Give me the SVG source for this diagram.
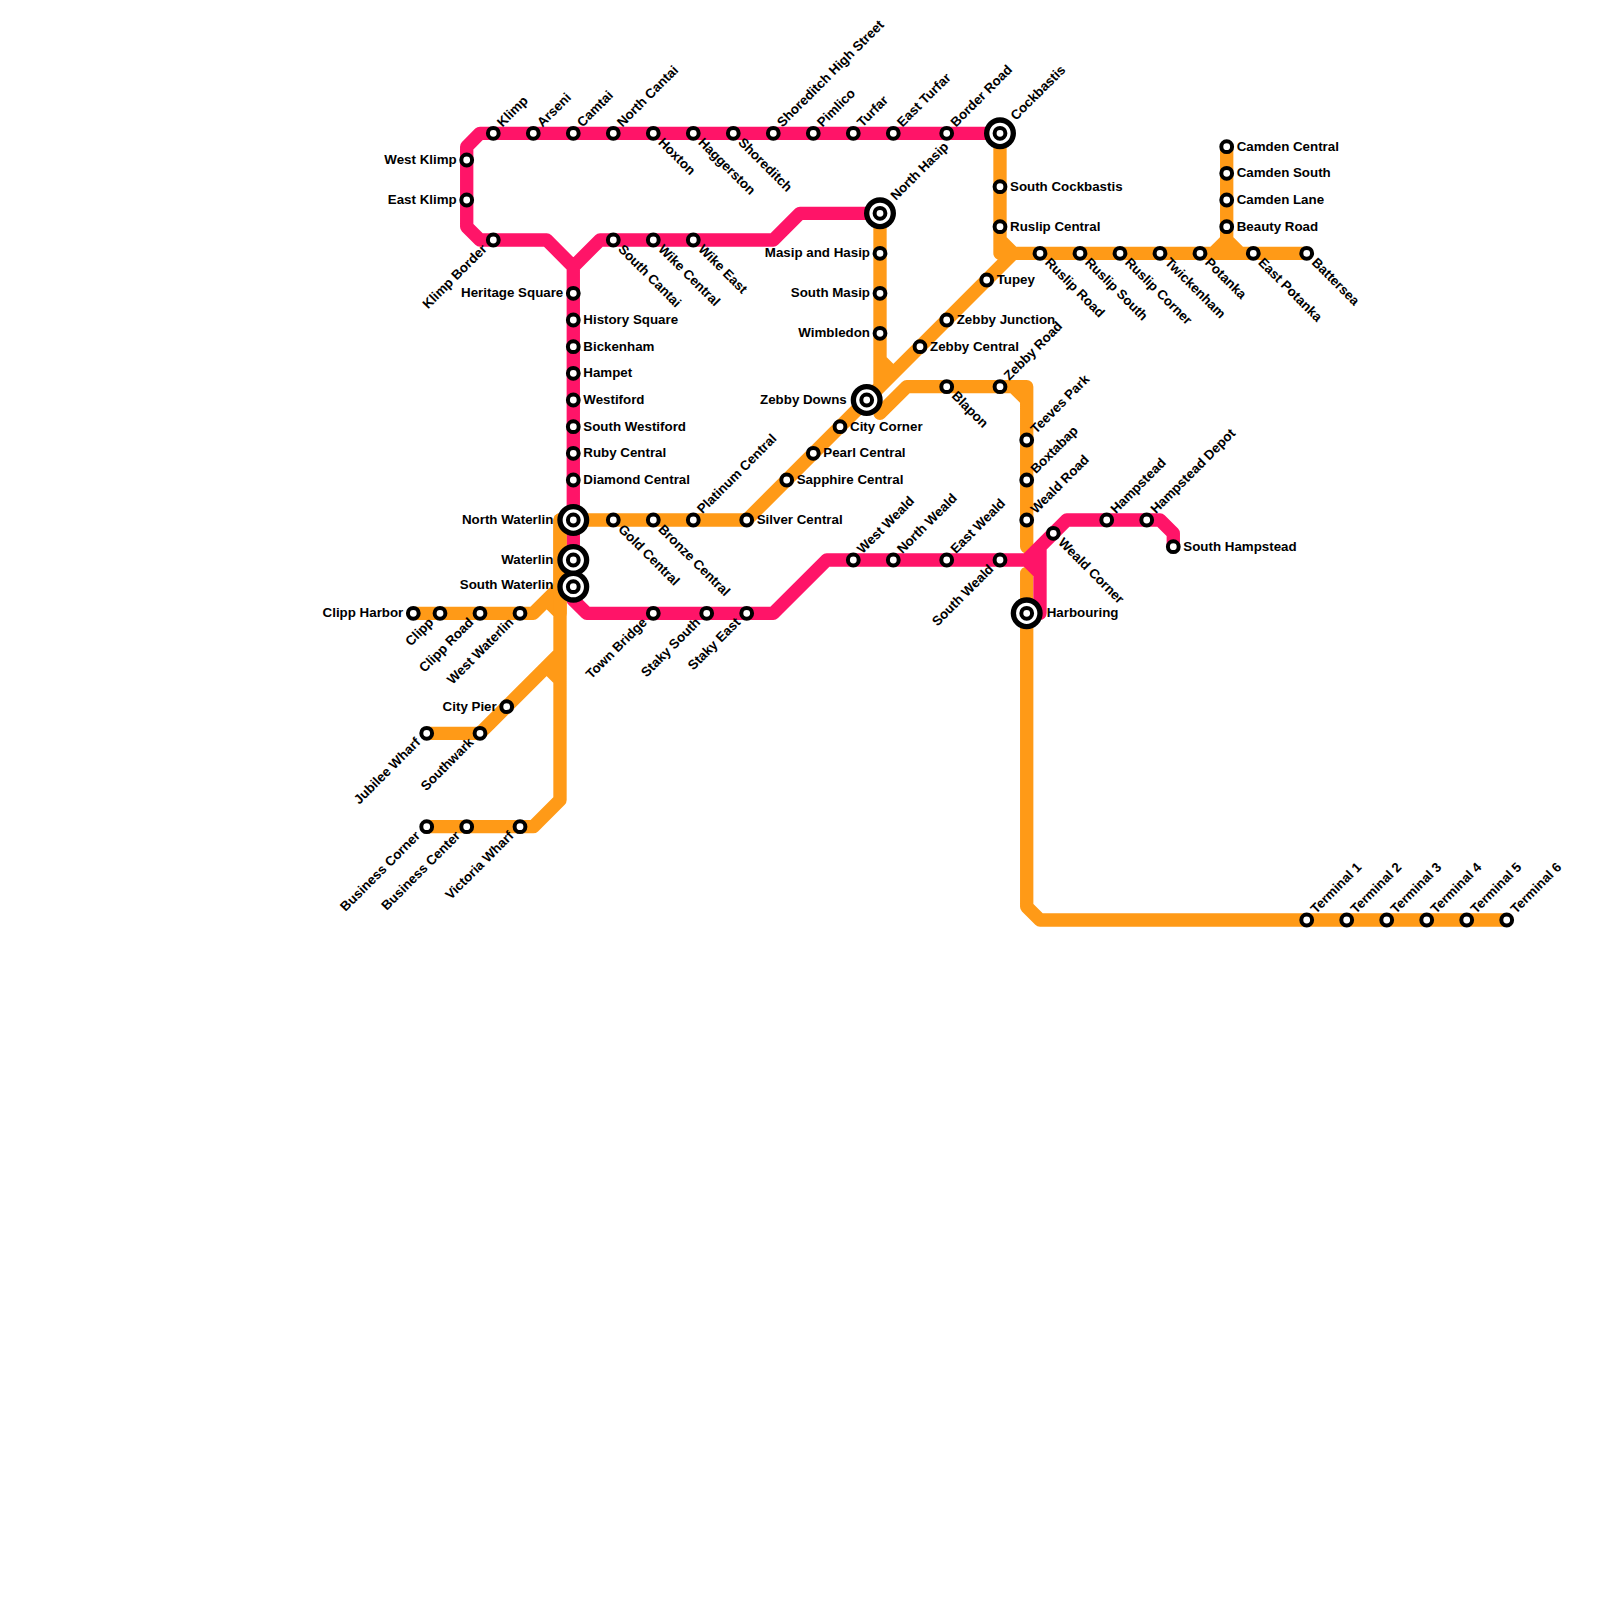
<svg xmlns="http://www.w3.org/2000/svg" width="1600" height="1600" viewBox="0 0 1600 1600">
<style>
.l{fill:none;stroke-width:13.33;stroke-linejoin:round;stroke-linecap:round}
.o{stroke:#ff9a17}
.p{stroke:#ff1468}
.s{fill:#fff;stroke:#000;stroke-width:4}
.i{fill:#fff;stroke:#000;stroke-width:5.33}
text{font-family:"Liberation Sans",Arial,sans-serif;font-size:13.33px;font-weight:bold;fill:#000}
.L{text-anchor:end}
</style>
<defs>
<circle id="st" r="5.4" class="s"/>
<g id="ix"><circle r="13.33" class="i"/><circle r="5.4" class="s"/></g>
</defs>
<rect width="1600" height="1600" fill="#fff"/>
<g id="connectors">
<path class="l o" d="M1000,133.3V253.3M1000,240L1013.3,253.3H1306.7M1226.7,146.7V240L1240,253.3M1226.7,240L1213.3,253.3M1013.3,253.3L746.7,520H560V800L533.3,826.7H426.7M880,213.3V386.7M880,360L893.3,373.3M880,413.3L906.7,386.7H1026.7V546.7M1013.3,386.7L1026.7,400M1026.7,573.3V906.7L1040,920H1506.7M413.3,613.3H533.3L560,586.7M546.7,600L560,613.3M426.7,733.3H480L560,653.3M546.7,666.7L560,680"/>
<path class="l p" d="M1000,133.3H480L466.7,146.7V226.7L480,240H546.7L573.3,266.7V600L586.7,613.3H773.3L826.7,560H1026.7L1066.7,520H1160L1173.3,533.3V546.7M573.3,266.7L600,240H773.3L800,213.3H880M1026.7,560L1040,573.3V613.3M1040,546.7V573.3"/>
<path class="l o" d="M560,520V613.3"/>
</g>
<g id="n1"><use href="#st" x="493.3" y="133.3"/><text transform="translate(493.3,133.3) rotate(-45)" x="10.5" y="2.5">Klimp</text></g>
<g id="n2"><use href="#st" x="533.3" y="133.3"/><text transform="translate(533.3,133.3) rotate(-45)" x="10.5" y="2.5">Arseni</text></g>
<g id="n3"><use href="#st" x="573.3" y="133.3"/><text transform="translate(573.3,133.3) rotate(-45)" x="10.5" y="2.5">Camtai</text></g>
<g id="n4"><use href="#st" x="613.3" y="133.3"/><text transform="translate(613.3,133.3) rotate(-45)" x="10.5" y="2.5">North Cantai</text></g>
<g id="n5"><use href="#st" x="653.3" y="133.3"/><text transform="translate(653.3,133.3) rotate(45)" x="10" y="4">Hoxton</text></g>
<g id="n6"><use href="#st" x="693.3" y="133.3"/><text transform="translate(693.3,133.3) rotate(45)" x="10" y="4">Haggerston</text></g>
<g id="n7"><use href="#st" x="733.3" y="133.3"/><text transform="translate(733.3,133.3) rotate(45)" x="10" y="4">Shoreditch</text></g>
<g id="n8"><use href="#st" x="773.3" y="133.3"/><text transform="translate(773.3,133.3) rotate(-45)" x="10.5" y="2.5">Shoreditch High Street</text></g>
<g id="n9"><use href="#st" x="813.3" y="133.3"/><text transform="translate(813.3,133.3) rotate(-45)" x="10.5" y="2.5">Pimlico</text></g>
<g id="n10"><use href="#st" x="853.3" y="133.3"/><text transform="translate(853.3,133.3) rotate(-45)" x="10.5" y="2.5">Turfar</text></g>
<g id="n11"><use href="#st" x="893.3" y="133.3"/><text transform="translate(893.3,133.3) rotate(-45)" x="10.5" y="2.5">East Turfar</text></g>
<g id="n12"><use href="#st" x="946.7" y="133.3"/><text transform="translate(946.7,133.3) rotate(-45)" x="10.5" y="2.5">Border Road</text></g>
<g id="n13"><use href="#ix" x="1000" y="133.3"/><text transform="translate(1000,133.3) rotate(-45)" x="20" y="2.5">Cockbastis</text></g>
<g id="n14"><use href="#st" x="466.7" y="160"/><text class="L" x="456.7" y="163.8">West Klimp</text></g>
<g id="n15"><use href="#st" x="466.7" y="200"/><text class="L" x="456.7" y="203.8">East Klimp</text></g>
<g id="n16"><use href="#st" x="493.3" y="240"/><text class="L" transform="translate(493.3,240) rotate(-45)" x="-11" y="3">Klimp Border</text></g>
<g id="n17"><use href="#st" x="613.3" y="240"/><text transform="translate(613.3,240) rotate(45)" x="10" y="4">South Cantai</text></g>
<g id="n18"><use href="#st" x="653.3" y="240"/><text transform="translate(653.3,240) rotate(45)" x="10" y="4">Wike Central</text></g>
<g id="n19"><use href="#st" x="693.3" y="240"/><text transform="translate(693.3,240) rotate(45)" x="10" y="4">Wike East</text></g>
<g id="n20"><use href="#st" x="573.3" y="293.3"/><text class="L" x="563.3" y="297.1">Heritage Square</text></g>
<g id="n21"><use href="#st" x="573.3" y="320"/><text x="583.3" y="323.8">History Square</text></g>
<g id="n22"><use href="#st" x="573.3" y="346.7"/><text x="583.3" y="350.5">Bickenham</text></g>
<g id="n23"><use href="#st" x="573.3" y="373.3"/><text x="583.3" y="377.1">Hampet</text></g>
<g id="n24"><use href="#st" x="573.3" y="400"/><text x="583.3" y="403.8">Westiford</text></g>
<g id="n25"><use href="#st" x="573.3" y="426.7"/><text x="583.3" y="430.5">South Westiford</text></g>
<g id="n26"><use href="#st" x="573.3" y="453.3"/><text x="583.3" y="457.1">Ruby Central</text></g>
<g id="n27"><use href="#st" x="573.3" y="480"/><text x="583.3" y="483.8">Diamond Central</text></g>
<g id="n28"><use href="#ix" x="573.3" y="520"/><text class="L" x="553.3" y="523.8">North Waterlin</text></g>
<g id="n29"><use href="#ix" x="573.3" y="560"/><text class="L" x="553.3" y="563.8">Waterlin</text></g>
<g id="n30"><use href="#ix" x="573.3" y="586.7"/><text class="L" x="553.3" y="589">South Waterlin</text></g>
<g id="n31"><use href="#st" x="613.3" y="520"/><text transform="translate(613.3,520) rotate(45)" x="10" y="4">Gold Central</text></g>
<g id="n32"><use href="#st" x="653.3" y="520"/><text transform="translate(653.3,520) rotate(45)" x="10" y="4">Bronze Central</text></g>
<g id="n33"><use href="#st" x="693.3" y="520"/><text transform="translate(693.3,520) rotate(-45)" x="10.5" y="2.5">Platinum Central</text></g>
<g id="n34"><use href="#st" x="746.7" y="520"/><text x="756.7" y="523.8">Silver Central</text></g>
<g id="n35"><use href="#st" x="786.7" y="480"/><text x="796.7" y="483.8">Sapphire Central</text></g>
<g id="n36"><use href="#st" x="813.3" y="453.3"/><text x="823.3" y="457.1">Pearl Central</text></g>
<g id="n37"><use href="#st" x="840" y="426.7"/><text x="850" y="430.5">City Corner</text></g>
<g id="n38"><use href="#ix" x="866.7" y="400"/><text class="L" x="846.7" y="403.8">Zebby Downs</text></g>
<g id="n39"><use href="#st" x="920" y="346.7"/><text x="930" y="350.5">Zebby Central</text></g>
<g id="n40"><use href="#st" x="946.7" y="320"/><text x="956.7" y="323.8">Zebby Junction</text></g>
<g id="n41"><use href="#st" x="986.7" y="280"/><text x="996.7" y="283.8">Tupey</text></g>
<g id="n42"><use href="#ix" x="880" y="213.3"/><text transform="translate(880,213.3) rotate(-45)" x="20" y="2.5">North Hasip</text></g>
<g id="n43"><use href="#st" x="880" y="253.3"/><text class="L" x="870" y="257.1">Masip and Hasip</text></g>
<g id="n44"><use href="#st" x="880" y="293.3"/><text class="L" x="870" y="297.1">South Masip</text></g>
<g id="n45"><use href="#st" x="880" y="333.3"/><text class="L" x="870" y="337.1">Wimbledon</text></g>
<g id="n46"><use href="#st" x="1000" y="186.7"/><text x="1010" y="190.5">South Cockbastis</text></g>
<g id="n47"><use href="#st" x="1000" y="226.7"/><text x="1010" y="230.5">Ruslip Central</text></g>
<g id="n48"><use href="#st" x="1040" y="253.3"/><text transform="translate(1040,253.3) rotate(45)" x="10" y="4">Ruslip Road</text></g>
<g id="n49"><use href="#st" x="1080" y="253.3"/><text transform="translate(1080,253.3) rotate(45)" x="10" y="4">Ruslip South</text></g>
<g id="n50"><use href="#st" x="1120" y="253.3"/><text transform="translate(1120,253.3) rotate(45)" x="10" y="4">Ruslip Corner</text></g>
<g id="n51"><use href="#st" x="1160" y="253.3"/><text transform="translate(1160,253.3) rotate(45)" x="10" y="4">Twickenham</text></g>
<g id="n52"><use href="#st" x="1200" y="253.3"/><text transform="translate(1200,253.3) rotate(45)" x="10" y="4">Potanka</text></g>
<g id="n53"><use href="#st" x="1253.3" y="253.3"/><text transform="translate(1253.3,253.3) rotate(45)" x="10" y="4">East Potanka</text></g>
<g id="n54"><use href="#st" x="1306.7" y="253.3"/><text transform="translate(1306.7,253.3) rotate(45)" x="10" y="4">Battersea</text></g>
<g id="n55"><use href="#st" x="1226.7" y="146.7"/><text x="1236.7" y="150.5">Camden Central</text></g>
<g id="n56"><use href="#st" x="1226.7" y="173.3"/><text x="1236.7" y="177.1">Camden South</text></g>
<g id="n57"><use href="#st" x="1226.7" y="200"/><text x="1236.7" y="203.8">Camden Lane</text></g>
<g id="n58"><use href="#st" x="1226.7" y="226.7"/><text x="1236.7" y="230.5">Beauty Road</text></g>
<g id="n59"><use href="#st" x="946.7" y="386.7"/><text transform="translate(946.7,386.7) rotate(45)" x="10" y="4">Blapon</text></g>
<g id="n60"><use href="#st" x="1000" y="386.7"/><text transform="translate(1000,386.7) rotate(-45)" x="10.5" y="2.5">Zebby Road</text></g>
<g id="n61"><use href="#st" x="1026.7" y="440"/><text transform="translate(1026.7,440) rotate(-45)" x="10.5" y="2.5">Teeves Park</text></g>
<g id="n62"><use href="#st" x="1026.7" y="480"/><text transform="translate(1026.7,480) rotate(-45)" x="10.5" y="2.5">Boxtabap</text></g>
<g id="n63"><use href="#st" x="1026.7" y="520"/><text transform="translate(1026.7,520) rotate(-45)" x="10.5" y="2.5">Weald Road</text></g>
<g id="n64"><use href="#st" x="853.3" y="560"/><text transform="translate(853.3,560) rotate(-45)" x="10.5" y="2.5">West Weald</text></g>
<g id="n65"><use href="#st" x="893.3" y="560"/><text transform="translate(893.3,560) rotate(-45)" x="10.5" y="2.5">North Weald</text></g>
<g id="n66"><use href="#st" x="946.7" y="560"/><text transform="translate(946.7,560) rotate(-45)" x="10.5" y="2.5">East Weald</text></g>
<g id="n67"><use href="#st" x="1000" y="560"/><text class="L" transform="translate(1000,560) rotate(-45)" x="-11" y="3">South Weald</text></g>
<g id="n68"><use href="#st" x="1053.3" y="533.3"/><text transform="translate(1053.3,533.3) rotate(45)" x="10" y="4">Weald Corner</text></g>
<g id="n69"><use href="#st" x="1106.7" y="520"/><text transform="translate(1106.7,520) rotate(-45)" x="10.5" y="2.5">Hampstead</text></g>
<g id="n70"><use href="#st" x="1146.7" y="520"/><text transform="translate(1146.7,520) rotate(-45)" x="10.5" y="2.5">Hampstead Depot</text></g>
<g id="n71"><use href="#st" x="1173.3" y="546.7"/><text x="1183.3" y="550.5">South Hampstead</text></g>
<g id="n72"><use href="#ix" x="1026.7" y="613.3"/><text x="1046.7" y="617.1">Harbouring</text></g>
<g id="n73"><use href="#st" x="413.3" y="613.3"/><text class="L" x="403.3" y="617.1">Clipp Harbor</text></g>
<g id="n74"><use href="#st" x="440" y="613.3"/><text class="L" transform="translate(440,613.3) rotate(-45)" x="-11" y="3">Clipp</text></g>
<g id="n75"><use href="#st" x="480" y="613.3"/><text class="L" transform="translate(480,613.3) rotate(-45)" x="-11" y="3">Clipp Road</text></g>
<g id="n76"><use href="#st" x="520" y="613.3"/><text class="L" transform="translate(520,613.3) rotate(-45)" x="-11" y="3">West Waterlin</text></g>
<g id="n77"><use href="#st" x="653.3" y="613.3"/><text class="L" transform="translate(653.3,613.3) rotate(-45)" x="-11" y="3">Town Bridge</text></g>
<g id="n78"><use href="#st" x="706.7" y="613.3"/><text class="L" transform="translate(706.7,613.3) rotate(-45)" x="-11" y="3">Staky South</text></g>
<g id="n79"><use href="#st" x="746.7" y="613.3"/><text class="L" transform="translate(746.7,613.3) rotate(-45)" x="-11" y="3">Staky East</text></g>
<g id="n80"><use href="#st" x="506.7" y="706.7"/><text class="L" x="496.7" y="710.5">City Pier</text></g>
<g id="n81"><use href="#st" x="426.7" y="733.3"/><text class="L" transform="translate(426.7,733.3) rotate(-45)" x="-11" y="3">Jubilee Wharf</text></g>
<g id="n82"><use href="#st" x="480" y="733.3"/><text class="L" transform="translate(480,733.3) rotate(-45)" x="-11" y="3">Southwark</text></g>
<g id="n83"><use href="#st" x="426.7" y="826.7"/><text class="L" transform="translate(426.7,826.7) rotate(-45)" x="-11" y="3">Business Corner</text></g>
<g id="n84"><use href="#st" x="466.7" y="826.7"/><text class="L" transform="translate(466.7,826.7) rotate(-45)" x="-11" y="3">Business Center</text></g>
<g id="n85"><use href="#st" x="520" y="826.7"/><text class="L" transform="translate(520,826.7) rotate(-45)" x="-11" y="3">Victoria Wharf</text></g>
<g id="n86"><use href="#st" x="1306.7" y="920"/><text transform="translate(1306.7,920) rotate(-45)" x="10.5" y="2.5">Terminal 1</text></g>
<g id="n87"><use href="#st" x="1346.7" y="920"/><text transform="translate(1346.7,920) rotate(-45)" x="10.5" y="2.5">Terminal 2</text></g>
<g id="n88"><use href="#st" x="1386.7" y="920"/><text transform="translate(1386.7,920) rotate(-45)" x="10.5" y="2.5">Terminal 3</text></g>
<g id="n89"><use href="#st" x="1426.7" y="920"/><text transform="translate(1426.7,920) rotate(-45)" x="10.5" y="2.5">Terminal 4</text></g>
<g id="n90"><use href="#st" x="1466.7" y="920"/><text transform="translate(1466.7,920) rotate(-45)" x="10.5" y="2.5">Terminal 5</text></g>
<g id="n91"><use href="#st" x="1506.7" y="920"/><text transform="translate(1506.7,920) rotate(-45)" x="10.5" y="2.5">Terminal 6</text></g>
</svg>
